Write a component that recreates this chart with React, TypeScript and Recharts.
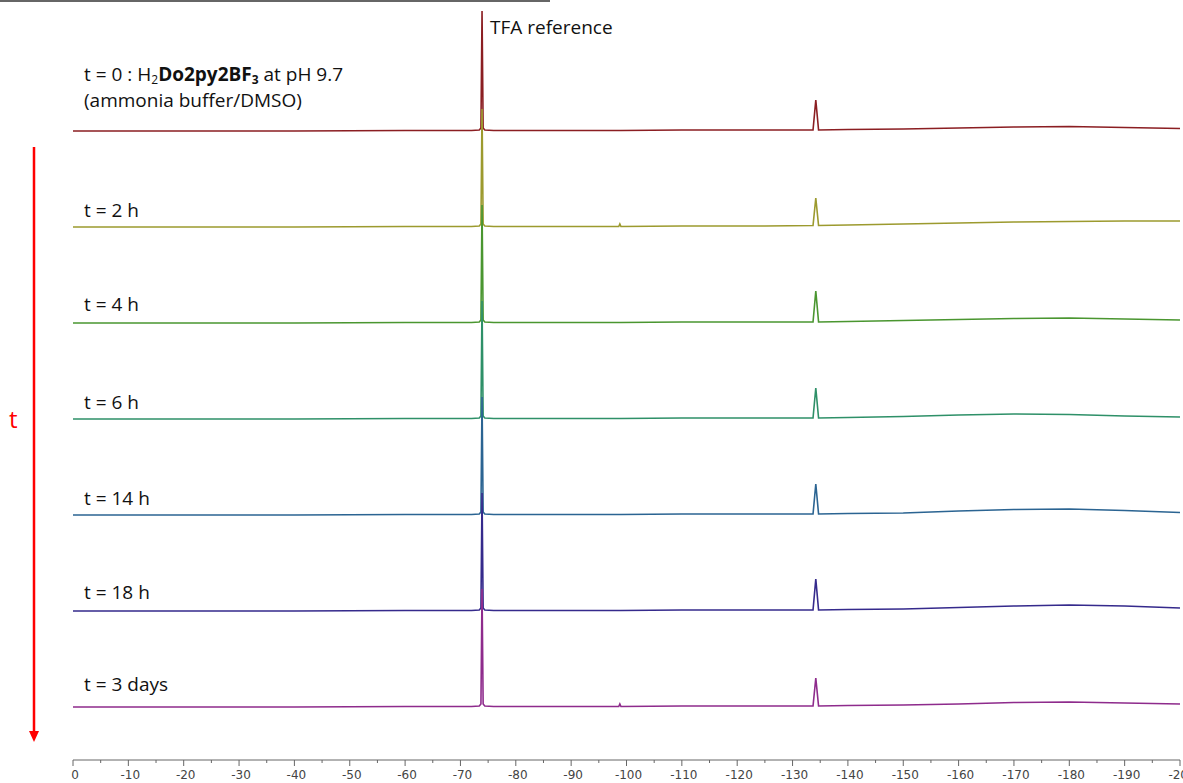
import { Line, LineChart, XAxis, YAxis } from "recharts";

/* ===== Data ===== */
// chemical shift grid (ppm)
const ppm = [
  0, -20, -40, -60, -72, -73.4, -73.7, -73.9, -74.1, -74.4, -76, -90, -98.6,
  -98.8, -99.0, -110, -125, -133.7, -134.2, -134.7, -140, -150, -160, -170,
  -180, -190, -200,
];

// intensities per spectrum, relative to its own baseline
const spec0h = [0, 0, 0, 0.5, 0.5, 1, 3, 120, 3, 1, 0.5, 0.5, 0.5, 0.5, 0.5, 1, 1, 1, 31, 1, 1.5, 2, 3, 4, 4.5, 3.5, 2.5];
const spec2h = [0, 0, 0, 0.5, 0.5, 1, 3, 118, 3, 1, 0.5, 0.5, 0.5, 3, 0.5, 1, 1, 1.5, 29, 1.5, 2, 3, 4, 5, 5.5, 6, 6];
const spec4h = [0, 0, 0, 0.5, 0.5, 1, 3, 118, 3, 1, 0.5, 0.5, 0.5, 0.5, 0.5, 1, 1, 1, 32, 1, 1.5, 2.5, 3.5, 4.5, 5, 4, 3];
const spec6h = [0, 0, 0, 0.5, 0.5, 1, 3, 118, 3, 1, 0.5, 0.5, 0.5, 0.5, 0.5, 1, 1, 1, 31, 1, 1.5, 2.5, 4, 5, 4.5, 3, 2];
const spec14h = [0, 0, 0, 0.5, 0.5, 1, 3, 118, 3, 1, 0.5, 0.5, 0.5, 0.5, 0.5, 1, 1, 1, 31, 1, 1.5, 2, 4, 5.5, 6, 4.5, 2.5];
const spec18h = [0, 0, 0, 0.5, 0.5, 1, 3, 118, 3, 1, 0.5, 0.5, 0.5, 0.5, 0.5, 1, 1, 1, 32, 1, 1.5, 2, 3.5, 5, 6, 5, 3];
const spec3d = [0, 0, 0, 0.5, 0.5, 1, 3, 118, 3, 1, 0.5, 0.5, 0.5, 3, 0.5, 1, 1, 1, 29, 1, 1.5, 2, 3, 4.5, 5, 4, 3];

const spectra = [spec0h, spec2h, spec4h, spec6h, spec14h, spec18h, spec3d];
const timeLabels = ["t = 2 h", "t = 4 h", "t = 6 h", "t = 14 h", "t = 18 h", "t = 3 days"];
const colors = ["#8B1E22", "#9C9A2E", "#4A9630", "#2E9068", "#2B6492", "#352A8C", "#8E2B8C"];

// axis ticks every 5 ppm, labelled every 10
const axisTicks: number[] = [];
for (let v = 0; v >= -200; v -= 5) axisTicks.push(v);

/* ===== Layout ===== */
const W = 1183;
const H = 783;
const PLOT_H = 760;
const TOP_BASE = 629; // baseline of first spectrum in plot units
const STEP = 96;
const labelTops = [198, 292, 390, 486, 580, 672];

const tableData = ppm.map((p, i) => {
  const row: Record<string, number> = { ppm: p };
  spectra.forEach((s, k) => {
    row["s" + k] = TOP_BASE - k * STEP + s[i];
  });
  return row;
});

const AxisTick = ({ x, y, payload }: any) => {
  const major = payload.value % 10 === 0;
  return (
    <g>
      <line x1={x} x2={x} y1={y} y2={y + (major ? 6 : 3)} stroke="#666" />
      {major && (
        <text x={x + 2} y={y + 19} textAnchor="middle" fontSize={12} fill="#444" fontFamily="DejaVu Sans">
          {payload.value}
        </text>
      )}
    </g>
  );
};

const labelStyle: React.CSSProperties = {
  position: "absolute",
  left: 84,
  fontFamily: "'Open Sans', sans-serif",
  fontSize: 19,
  lineHeight: "24px",
  height: 24,
  color: "#111",
  whiteSpace: "nowrap",
};

const subStyle: React.CSSProperties = {
  fontSize: 12,
  lineHeight: "12px",
  verticalAlign: "-3px",
  display: "inline-block",
};

export default function App() {
  return (
    <div style={{ position: "relative", width: W, height: H, background: "#fff", overflow: "hidden" }}>
      <style>{"body{margin:0}"}</style>

      {/* cut-off caption line at the very top */}
      <div style={{ position: "absolute", left: 0, top: 0, width: 550, height: 2, background: "#666" }} />

      <LineChart
        width={W}
        height={H}
        data={tableData}
        margin={{ top: 0, right: 3, bottom: 0, left: 73 }}
      >
        <XAxis
          dataKey="ppm"
          type="number"
          domain={[-200, 0]}
          reversed
          ticks={axisTicks}
          interval={0}
          tickSize={0}
          tickMargin={0}
          tickLine={false}
          height={H - PLOT_H}
          stroke="#666"
          tick={<AxisTick />}
        />
        <YAxis hide domain={[0, PLOT_H]} allowDataOverflow />
        {spectra.map((_, k) => (
          <Line
            key={k}
            dataKey={"s" + k}
            type="linear"
            stroke={colors[k]}
            strokeWidth={1.6}
            dot={false}
            isAnimationActive={false}
          />
        ))}
      </LineChart>

      {/* labels */}
      <div style={{ ...labelStyle, left: 490, top: 15 }}>TFA reference</div>
      <div style={{ ...labelStyle, top: 63, height: 22, lineHeight: "22px" }}>
        t = 0 : H<span style={subStyle}>2</span>
        <b>
          Do2py2BF<span style={subStyle}>3</span>
        </b>{" "}
        at pH 9.7
      </div>
      <div style={{ ...labelStyle, top: 88 }}>(ammonia buffer/DMSO)</div>
      {timeLabels.map((t, i) => (
        <div key={t} style={{ ...labelStyle, top: labelTops[i] }}>
          {t}
        </div>
      ))}

      {/* time arrow */}
      <svg style={{ position: "absolute", left: 0, top: 0 }} width={60} height={H}>
        <line x1={34} y1={147} x2={34} y2={732} stroke="#FF0000" strokeWidth={2.5} />
        <polygon points="29,731 39,731 34,742" fill="#FF0000" />
        <text x={9} y={428} fontSize={24} fill="#FF0000" fontFamily="'Open Sans', sans-serif">
          t
        </text>
      </svg>
    </div>
  );
}
